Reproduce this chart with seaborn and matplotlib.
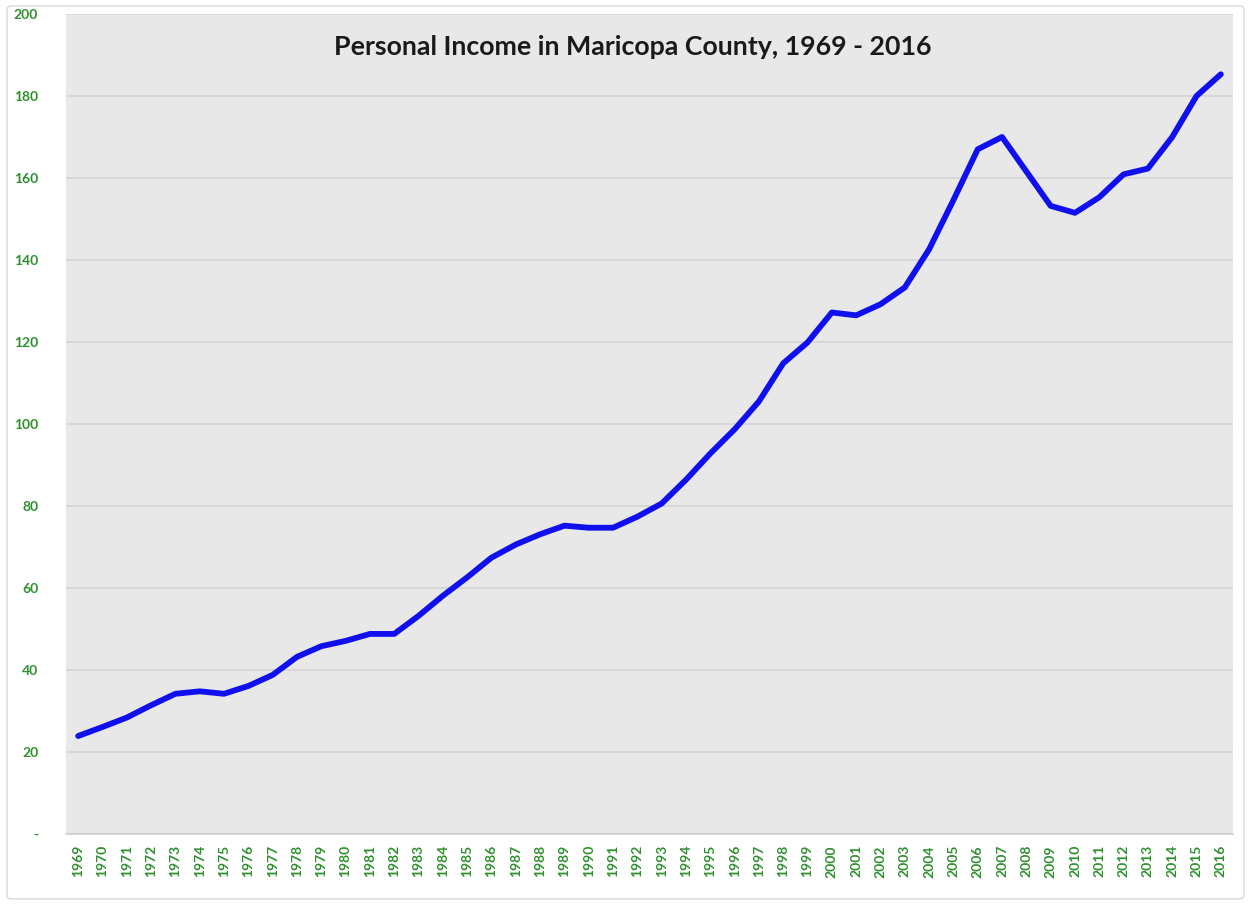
import matplotlib
matplotlib.use("Agg")
import matplotlib.pyplot as plt
import seaborn as sns
import pandas as pd
from matplotlib.patches import FancyBboxPatch

years = list(range(1969, 2017))
income = [23.9, 26.1, 28.4, 31.4, 34.2, 34.8, 34.2, 36.1, 38.8, 43.2,
          45.8, 47.1, 48.8, 48.8, 53.2, 58.1, 62.6, 67.4, 70.6, 73.1,
          75.2, 74.7, 74.7, 77.4, 80.6, 86.4, 92.8, 98.7, 105.5, 114.8,
          119.9, 127.2, 126.5, 129.2, 133.3, 142.6, 154.6, 167.0, 170.0, 161.6,
          153.2, 151.5, 155.3, 160.9, 162.3, 170.0, 180.0, 185.3]
title = "Personal Income in Maricopa County, 1969 - 2016"
ytick_values = [0, 20, 40, 60, 80, 100, 120, 140, 160, 180, 200]
ytick_labels = ["-", "20", "40", "60", "80", "100", "120", "140", "160", "180", "200"]

df = pd.DataFrame({"year": [str(y) for y in years], "income": income})

sns.set_theme(style="white")
plt.rcParams['font.family'] = ['Lato', 'DejaVu Sans']

W, H = 1251, 905
fig = plt.figure(figsize=(W / 100, H / 100), dpi=100)
fig.patch.set_facecolor("white")

# outer chart border
border = FancyBboxPatch((7 / W, 6 / H), (1244 - 7) / W, (899 - 6) / H,
                        boxstyle="round,pad=0,rounding_size=0.004",
                        transform=fig.transFigure, facecolor="none",
                        edgecolor="#d9d9d9", linewidth=1.0)
fig.patches.append(border)

left, right, top, bottom = 66, 1233, 14, 834
ax = fig.add_axes([left / W, 1 - bottom / H, (right - left) / W, (bottom - top) / H])
ax.set_facecolor("#e8e8e8")

sns.lineplot(data=df, x="year", y="income", ax=ax, color="#1010ee",
             linewidth=4.2, sort=False)

ax.set_xlim(-0.5, len(years) - 0.5)
ax.set_ylim(0, 200)
ax.set_yticks(ytick_values)
ax.set_yticklabels(ytick_labels)
ax.yaxis.grid(True, color="#d4d4d4", linewidth=1.2)
ax.xaxis.grid(False)
ax.set_axisbelow(True)
for s in ["left", "right", "top"]:
    ax.spines[s].set_visible(False)
ax.spines["bottom"].set_color("#d0d0d0")
ax.spines["bottom"].set_linewidth(1.2)

ax.set_xlabel("")
ax.set_ylabel("")
green = "#2f8f2f"
ax.tick_params(axis="x", length=0, pad=8, labelsize=10, labelcolor=green, labelrotation=90)
ax.tick_params(axis="y", length=0, pad=20, labelsize=10, labelcolor=green)
for lab in ax.get_xticklabels() + ax.get_yticklabels():
    lab.set_fontweight("bold")

fig.text(633 / W, 1 - 47 / H, title, ha="center", va="center",
         fontsize=19.3, fontweight="bold", color="#1a1a1a")

fig.savefig("out.png", dpi=100)
